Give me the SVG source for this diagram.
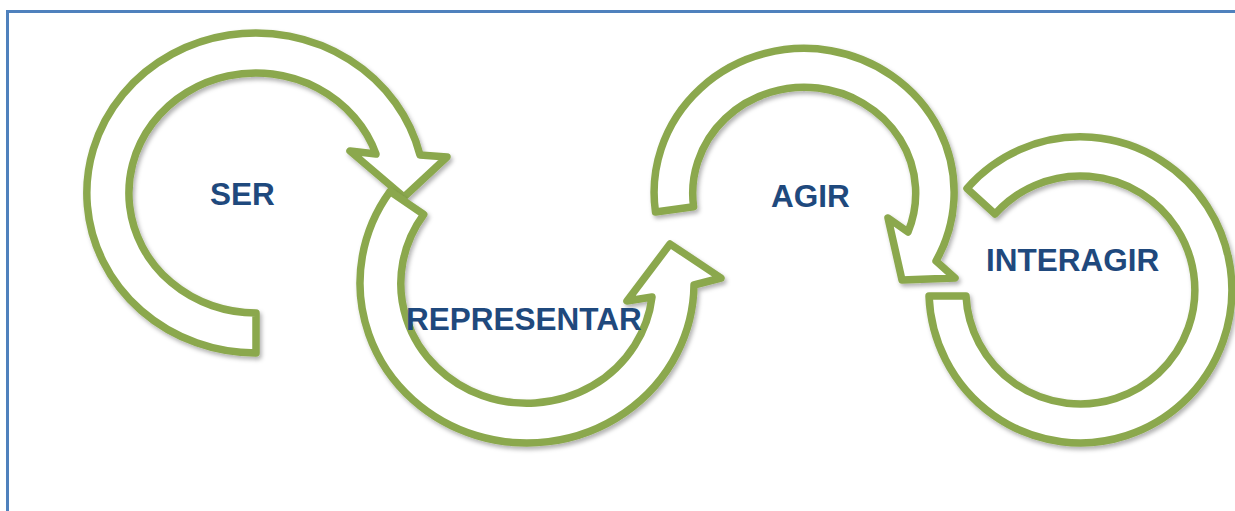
<svg xmlns="http://www.w3.org/2000/svg" width="1235" height="511" viewBox="0 0 1235 511">
  <defs>
    <filter id="soft-shadow" x="-10%" y="-10%" width="125%" height="125%">
      <feDropShadow dx="2" dy="3" stdDeviation="2" flood-color="#000" flood-opacity="0.3"/>
    </filter>
    <style>
      .frame { fill: none; stroke: #4F81BD; stroke-width: 3; }
      .ring { fill: #FFFFFF; stroke: #8BA84E; stroke-width: 7.5; stroke-linejoin: round; filter: url(#soft-shadow); }
      .label { font-family: "Liberation Sans", Arial, sans-serif; font-size: 31.5px; font-weight: bold; fill: #1F497D; }
    </style>
  </defs>

  <rect width="1235" height="511" fill="#FFFFFF"/>

  <!-- outer frame: top and left edges -->
  <path class="frame" d="M 7.5 511 L 7.5 11.5 L 1235 11.5"/>

  <!-- circular arrow 1 -->
  <g id="node-ser">
    <path class="ring" d="M 256 353 A 169 160 0 1 1 420 155 L 447 157 L 404 197 L 350 151 L 376 154 A 127 120 0 1 0 256 313 Z"/>
    <text class="label" x="210" y="205">SER</text>
  </g>

  <!-- circular arrow 2 -->
  <g id="node-representar">
    <path class="ring" d="M 390 191.5 A 167 160 0 1 0 694 285 L 721 278 L 670 244 L 627 301 L 652 297 A 126 120 0 1 1 423.7 214.4 Z"/>
    <text class="label" x="406" y="330">REPRESENTAR</text>
  </g>

  <!-- circular arrow 3 -->
  <g id="node-agir">
    <path class="ring" d="M 655.5 212 A 150 144 0 1 1 936 261 L 955 278 L 902 280 L 888 218 L 908 232 A 111.5 106 0 1 0 693.6 206.7 Z"/>
    <text class="label" x="771" y="207">AGIR</text>
  </g>

  <!-- open ring 4 -->
  <g id="node-interagir">
    <path class="ring" d="M 929 296 A 151.5 153 0 1 0 967 188.4 L 995 214 A 114.5 114 0 1 1 966 296 Z"/>
    <text class="label" x="986" y="271">INTERAGIR</text>
  </g>

  <!-- the arrows themselves carry the flow; no separate connector lines -->
  <g id="connectors"/>
</svg>
